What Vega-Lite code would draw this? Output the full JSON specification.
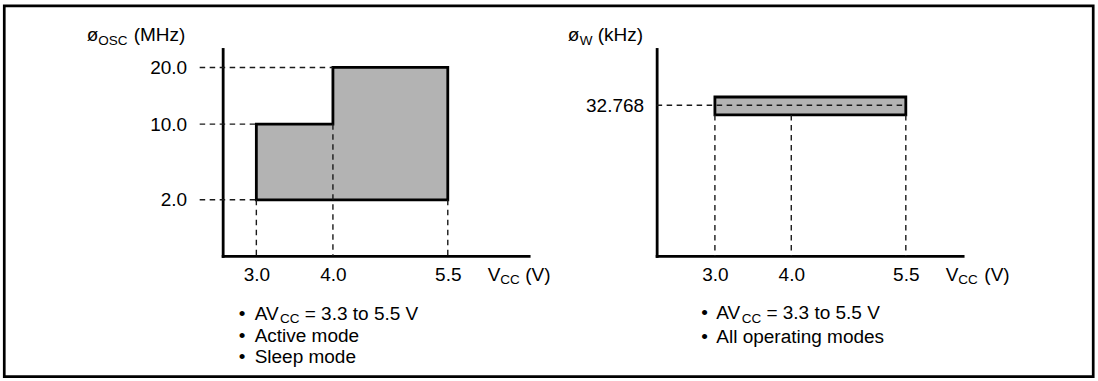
{
  "$schema": "https://vega.github.io/schema/vega-lite/v6.json",
  "background": "white",
  "padding": {"left": 2.65, "top": 3.95, "right": 0, "bottom": 0},
  "spacing": 128,
  "bounds": "flush",
  "config": {
    "view": {"stroke": null},
    "font": "Liberation Sans",
    "text": {"font": "Liberation Sans", "fontSize": 19, "color": "black", "baseline": "alphabetic", "align": "left"},
    "axis": {
      "domainColor": "black", "domainWidth": 2.8, "domainCap": "square",
      "ticks": false, "tickSize": 0, "grid": false, "title": null,
      "labelFont": "Liberation Sans", "labelFontSize": 19, "labelColor": "black",
      "labelOverlap": false, "labelFlush": false
    }
  },
  "hconcat": [
    {
      "width": 306,
      "height": 207,
      "layer": [
        {
          "data": {"values": [{"vcc": 3.0, "fosc": 10}, {"vcc": 4.0, "fosc": 20}, {"vcc": 5.5, "fosc": 20}]},
          "mark": {"type": "area", "interpolate": "step-after", "fill": "#b3b3b3", "stroke": "black", "strokeWidth": 2.8, "strokeJoin": "miter", "opacity": 1},
          "encoding": {
            "x": {"field": "vcc", "type": "quantitative",
              "scale": {"domain": [2.56, 6.556], "nice": false, "zero": false},
              "axis": {"values": [3, 4, 5.5], "format": ".1f", "labelBaseline": "alphabetic", "labelPadding": 25}},
            "y": {"field": "fosc", "type": "quantitative",
              "scale": {"type": "sqrt", "domain": [0.0138, 24], "nice": false, "zero": false},
              "axis": {"values": [2, 10, 20], "format": ".1f", "labelBaseline": "alphabetic", "labelPadding": 36, "labelOffset": 6}},
            "y2": {"datum": 2}
          }
        },
        {
          "data": {"values": [
            {"x1": 2.26, "x2": 4.0, "y1": 20, "y2": 20},
            {"x1": 2.26, "x2": 3.0, "y1": 10, "y2": 10},
            {"x1": 2.26, "x2": 3.0, "y1": 2, "y2": 2},
            {"x1": 3.0, "x2": 3.0, "y1": 2, "y2": 0.0138},
            {"x1": 4.0, "x2": 4.0, "y1": 10, "y2": 0.0138},
            {"x1": 5.5, "x2": 5.5, "y1": 2, "y2": 0.0138}
          ]},
          "mark": {"type": "rule", "color": "#1a1a1a", "strokeWidth": 1.4, "strokeDash": [5.5, 4.5]},
          "encoding": {
            "x": {"field": "x1", "type": "quantitative"},
            "x2": {"field": "x2"},
            "y": {"field": "y1", "type": "quantitative"},
            "y2": {"field": "y2"}
          }
        },
        {
          "data": {"values": [{"t": "ø"}]},
          "mark": {"type": "text", "dx": -136, "dy": -8},
          "encoding": {"x": {"datum": 2.56}, "y": {"datum": 24}, "text": {"field": "t"}}
        },
        {
          "data": {"values": [{"t": "OSC"}]},
          "mark": {"type": "text", "fontSize": 13.5, "dx": -124.5, "dy": -4.3},
          "encoding": {"x": {"datum": 2.56}, "y": {"datum": 24}, "text": {"field": "t"}}
        },
        {
          "data": {"values": [{"t": "(MHz)"}]},
          "mark": {"type": "text", "dx": -89, "dy": -8},
          "encoding": {"x": {"datum": 2.56}, "y": {"datum": 24}, "text": {"field": "t"}}
        },
        {
          "data": {"values": [{"t": "V"}]},
          "mark": {"type": "text", "dx": 40, "dy": 25},
          "encoding": {"x": {"datum": 5.5}, "y": {"datum": 0.0138}, "text": {"field": "t"}}
        },
        {
          "data": {"values": [{"t": "CC"}]},
          "mark": {"type": "text", "fontSize": 13.5, "dx": 52.5, "dy": 28.5},
          "encoding": {"x": {"datum": 5.5}, "y": {"datum": 0.0138}, "text": {"field": "t"}}
        },
        {
          "data": {"values": [{"t": "(V)"}]},
          "mark": {"type": "text", "dx": 77.5, "dy": 25},
          "encoding": {"x": {"datum": 5.5}, "y": {"datum": 0.0138}, "text": {"field": "t"}}
        },
        {
          "data": {"values": [{"t": "•\n•\n•"}]},
          "mark": {"type": "text", "dx": -17.5, "dy": 64, "lineBreak": "\n", "lineHeight": 21.6},
          "encoding": {"x": {"datum": 3.0}, "y": {"datum": 0.0138}, "text": {"field": "t"}}
        },
        {
          "data": {"values": [{"t": "AV"}]},
          "mark": {"type": "text", "dx": -1.7, "dy": 64},
          "encoding": {"x": {"datum": 3.0}, "y": {"datum": 0.0138}, "text": {"field": "t"}}
        },
        {
          "data": {"values": [{"t": "CC"}]},
          "mark": {"type": "text", "fontSize": 13.5, "dx": 23.7, "dy": 67.5},
          "encoding": {"x": {"datum": 3.0}, "y": {"datum": 0.0138}, "text": {"field": "t"}}
        },
        {
          "data": {"values": [{"t": "= 3.3 to 5.5 V"}]},
          "mark": {"type": "text", "dx": 48.4, "dy": 64},
          "encoding": {"x": {"datum": 3.0}, "y": {"datum": 0.0138}, "text": {"field": "t"}}
        },
        {
          "data": {"values": [{"t": "Active mode\nSleep mode"}]},
          "mark": {"type": "text", "dx": -1.7, "dy": 85.6, "lineBreak": "\n", "lineHeight": 21.6},
          "encoding": {"x": {"datum": 3.0}, "y": {"datum": 0.0138}, "text": {"field": "t"}}
        }
      ]
    },
    {
      "width": 306,
      "height": 207,
      "layer": [
        {
          "data": {"values": [{"item": "figure border"}]},
          "mark": {"type": "rect", "filled": false, "stroke": "black", "strokeWidth": 2.7},
          "encoding": {
            "x": {"datum": -6.306, "type": "quantitative",
              "scale": {"domain": [2.237, 6.244], "nice": false, "zero": false},
              "axis": {"values": [3, 4, 5.5], "format": ".1f", "labelBaseline": "alphabetic", "labelPadding": 25}},
            "x2": {"datum": 7.954},
            "y": {"datum": 54.35, "type": "quantitative",
              "scale": {"domain": [0, 45], "nice": false, "zero": false},
              "axis": {"values": [32.768], "format": ".3f", "labelBaseline": "alphabetic", "labelPadding": 13, "labelOffset": 6}},
            "y2": {"datum": -26.24}
          }
        },
        {
          "data": {"values": [{"vcc_min": 3.0, "vcc_max": 5.5, "fw_lo": 30.65, "fw_hi": 34.55}]},
          "mark": {"type": "rect", "fill": "#b3b3b3", "stroke": "black", "strokeWidth": 2.8, "opacity": 1},
          "encoding": {
            "x": {"field": "vcc_min", "type": "quantitative"},
            "x2": {"field": "vcc_max"},
            "y": {"field": "fw_lo", "type": "quantitative"},
            "y2": {"field": "fw_hi"}
          }
        },
        {
          "data": {"values": [
            {"x1": 2.237, "x2": 5.5, "y1": 32.768, "y2": 32.768},
            {"x1": 3.0, "x2": 3.0, "y1": 30.65, "y2": 0},
            {"x1": 4.0, "x2": 4.0, "y1": 30.65, "y2": 0},
            {"x1": 5.5, "x2": 5.5, "y1": 30.65, "y2": 0}
          ]},
          "mark": {"type": "rule", "color": "#1a1a1a", "strokeWidth": 1.4, "strokeDash": [5.5, 4.5]},
          "encoding": {
            "x": {"field": "x1", "type": "quantitative"},
            "x2": {"field": "x2"},
            "y": {"field": "y1", "type": "quantitative"},
            "y2": {"field": "y2"}
          }
        },
        {
          "data": {"values": [{"t": "ø"}]},
          "mark": {"type": "text", "dx": -89, "dy": -8},
          "encoding": {"x": {"datum": 2.237}, "y": {"datum": 45}, "text": {"field": "t"}}
        },
        {
          "data": {"values": [{"t": "W"}]},
          "mark": {"type": "text", "fontSize": 13.5, "dx": -77, "dy": -4.3},
          "encoding": {"x": {"datum": 2.237}, "y": {"datum": 45}, "text": {"field": "t"}}
        },
        {
          "data": {"values": [{"t": "(kHz)"}]},
          "mark": {"type": "text", "dx": -59, "dy": -8},
          "encoding": {"x": {"datum": 2.237}, "y": {"datum": 45}, "text": {"field": "t"}}
        },
        {
          "data": {"values": [{"t": "V"}]},
          "mark": {"type": "text", "dx": 40, "dy": 25},
          "encoding": {"x": {"datum": 5.5}, "y": {"datum": 0}, "text": {"field": "t"}}
        },
        {
          "data": {"values": [{"t": "CC"}]},
          "mark": {"type": "text", "fontSize": 13.5, "dx": 52.5, "dy": 28.5},
          "encoding": {"x": {"datum": 5.5}, "y": {"datum": 0}, "text": {"field": "t"}}
        },
        {
          "data": {"values": [{"t": "(V)"}]},
          "mark": {"type": "text", "dx": 78.5, "dy": 25},
          "encoding": {"x": {"datum": 5.5}, "y": {"datum": 0}, "text": {"field": "t"}}
        },
        {
          "data": {"values": [{"t": "•\n•"}]},
          "mark": {"type": "text", "dx": -13.6, "dy": 63.5, "lineBreak": "\n", "lineHeight": 24},
          "encoding": {"x": {"datum": 3.0}, "y": {"datum": 0}, "text": {"field": "t"}}
        },
        {
          "data": {"values": [{"t": "AV"}]},
          "mark": {"type": "text", "dx": 1.4, "dy": 63.5},
          "encoding": {"x": {"datum": 3.0}, "y": {"datum": 0}, "text": {"field": "t"}}
        },
        {
          "data": {"values": [{"t": "CC"}]},
          "mark": {"type": "text", "fontSize": 13.5, "dx": 26.8, "dy": 67},
          "encoding": {"x": {"datum": 3.0}, "y": {"datum": 0}, "text": {"field": "t"}}
        },
        {
          "data": {"values": [{"t": "= 3.3 to 5.5 V"}]},
          "mark": {"type": "text", "dx": 51.5, "dy": 63.5},
          "encoding": {"x": {"datum": 3.0}, "y": {"datum": 0}, "text": {"field": "t"}}
        },
        {
          "data": {"values": [{"t": "All operating modes"}]},
          "mark": {"type": "text", "dx": 1.4, "dy": 87.5},
          "encoding": {"x": {"datum": 3.0}, "y": {"datum": 0}, "text": {"field": "t"}}
        }
      ]
    }
  ]
}
